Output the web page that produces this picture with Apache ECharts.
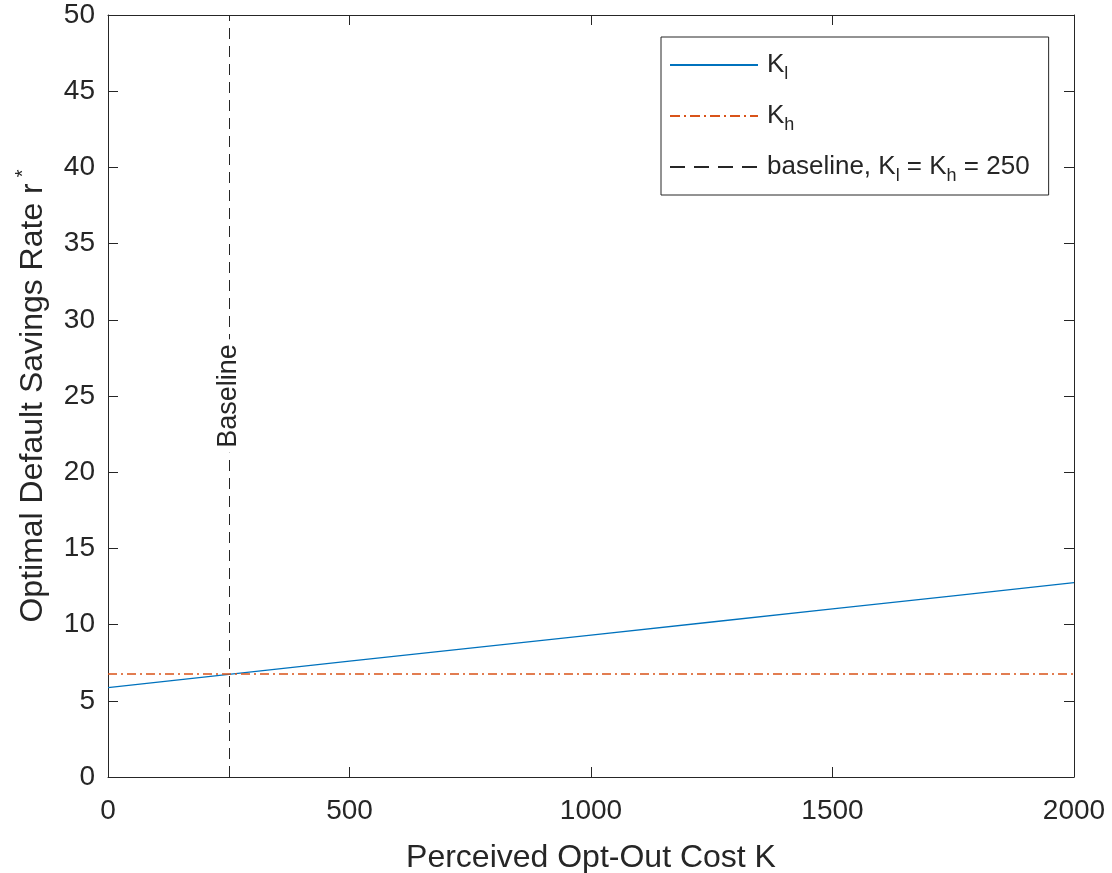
<!DOCTYPE html>
<html>
<head>
<meta charset="utf-8">
<script src="https://cdn.jsdelivr.net/npm/echarts@6/dist/echarts.min.js"></script>
<style>
  html, body { margin: 0; padding: 0; background: #fff; }
  #chart { width: 1112px; height: 873px; }
</style>
</head>
<body>
<div id="chart"></div>
<script>
// perceived opt-out cost K
const costK = [0, 250, 500, 750, 1000, 1250, 1500, 1750, 2000]
// optimal default rate for K_l (varies with K)
const rateLow = [5.86, 6.73, 7.6, 8.46, 9.31, 10.17, 11.03, 11.89, 12.75]
// K_h stays flat
const rateHigh = [6.76, 6.76, 6.76, 6.76, 6.76, 6.76, 6.76, 6.76, 6.76]
const baselineK = 250

const FONT = '"Liberation Sans", Arial, sans-serif'
const INK = '#262626'
const BLUE = '#0072BD'
const ORANGE = '#D95319'
const CLEAR = 'rgba(0,0,0,0)'

const pairs = (xs, ys) => xs.map((x, i) => [x, ys[i]])

const txt = { fontSize: 26, fontFamily: FONT, color: INK, padding: [0, 0, 0, 4] }
const sub = { fontSize: 18, fontFamily: FONT, color: INK, padding: [18, 0, 0, 0] }
const txt2 = { fontSize: 26, fontFamily: FONT, color: INK }

let chart = echarts.init(document.getElementById('chart'))

let boxAxis = {
  axisLine: { show: true, onZero: false, lineStyle: { color: INK, width: 1 } },
  axisTick: { show: true, inside: true, length: 10, lineStyle: { color: INK } },
  axisLabel: { show: false },
  splitLine: { show: false }
}

chart.setOption({
  animation: false,
  backgroundColor: '#fff',
  textStyle: { fontFamily: FONT },
  grid: { left: 108, right: 38, top: 15, bottom: 96, containLabel: false, outerBoundsMode: 'none' },
  legend: {
    orient: 'vertical',
    left: 661,
    top: 37,
    padding: [15, 19, 10, 8],
    itemGap: 20,
    itemWidth: 88,
    itemHeight: 24,
    borderColor: INK,
    borderWidth: 1,
    backgroundColor: '#fff',
    textStyle: { fontSize: 26, fontFamily: FONT, color: INK, rich: { t: txt, s: sub, u: txt2 } },
    data: [
      { name: 'K_l' },
      { name: 'K_h', lineStyle: { type: [10, 4, 2, 4] } },
      { name: 'baseline', lineStyle: { type: [15, 9] } }
    ],
    formatter: function (name) {
      if (name === 'K_l') return '{t|K}{s|l}'
      if (name === 'K_h') return '{t|K}{s|h}'
      return '{t|baseline, K}{s|l}{u| = K}{s|h}{u| = 250}'
    }
  },
  xAxis: [{
    type: 'value',
    min: 0, max: 2000, interval: 500,
    name: 'Perceived Opt-Out Cost K',
    nameLocation: 'middle',
    nameGap: 65,
    nameTextStyle: { fontSize: 32, fontFamily: FONT, color: INK },
    axisLine: { show: true, onZero: false, lineStyle: { color: INK, width: 1 } },
    axisTick: { show: true, inside: true, length: 10, lineStyle: { color: INK } },
    axisLabel: { fontSize: 28, fontFamily: FONT, color: INK, margin: 20, formatter: v => String(v) },
    splitLine: { show: false }
  }, Object.assign({ type: 'value', position: 'top', min: 0, max: 2000, interval: 500 }, boxAxis)],
  yAxis: [{
    type: 'value',
    min: 0, max: 50, interval: 5,
    name: 'Optimal Default Savings Rate r{sup|*}',
    nameLocation: 'middle',
    nameRotate: 90,
    nameGap: 55,
    nameTextStyle: {
      fontSize: 32, fontFamily: FONT, color: INK,
      rich: { sup: { fontSize: 20, fontFamily: FONT, color: INK, padding: [0, 0, 20, 6] } }
    },
    axisLine: { show: true, onZero: false, lineStyle: { color: INK, width: 1 } },
    axisTick: { show: true, inside: true, length: 10, lineStyle: { color: INK } },
    axisLabel: { fontSize: 28, fontFamily: FONT, color: INK, margin: 13 },
    splitLine: { show: false }
  }, Object.assign({ type: 'value', position: 'right', min: 0, max: 50, interval: 5 }, boxAxis)],
  series: [
    {
      name: 'K_l',
      type: 'line',
      symbol: 'none',
      data: pairs(costK, rateLow),
      lineStyle: { color: BLUE, width: 1.3 },
      itemStyle: { color: CLEAR, borderWidth: 0 },
      z: 3
    },
    {
      name: 'K_h',
      type: 'line',
      symbol: 'none',
      data: pairs(costK, rateHigh),
      lineStyle: { color: ORANGE, width: 1.3, type: [9, 4, 2, 4] },
      itemStyle: { color: CLEAR, borderWidth: 0 },
      z: 4
    },
    {
      name: 'baseline',
      type: 'line',
      symbol: 'none',
      data: [],
      lineStyle: { color: INK, width: 1, type: [11, 7] },
      itemStyle: { color: CLEAR, borderWidth: 0 },
      markLine: {
        silent: true,
        symbol: 'none',
        lineStyle: { color: INK, width: 1, type: [11, 7] },
        label: {
          show: true,
          formatter: 'Baseline',
          position: 'middle',
          fontSize: 27,
          fontFamily: FONT,
          color: INK,
          backgroundColor: '#fff',
          padding: [0, 5],
          distance: -13
        },
        data: [[{ coord: [baselineK, 0] }, { coord: [baselineK, 50] }]]
      }
    }
  ]
})
</script>
</body>
</html>
